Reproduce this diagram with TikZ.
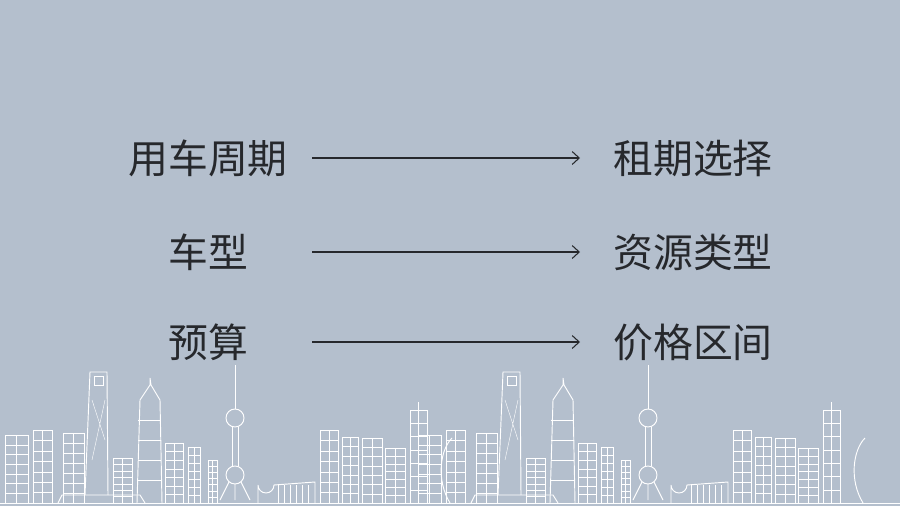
\documentclass[tikz,border=0pt]{standalone}
\usepackage{fontspec}
\newfontfamily\cjk{Noto Sans CJK SC}
\usetikzlibrary{arrows.meta}
\definecolor{bgblue}{RGB}{180,191,205}
\definecolor{ink}{RGB}{38,40,44}
\tikzset{
    label/.style={font=\cjk\fontsize{34}{36}\selectfont, text=ink},
    maparrow/.style={draw=ink, line width=0.9pt, -{Straight Barb[length=6pt,width=11pt]}},
    city/.style={draw=white, line width=0.8pt},
    thin/.style={draw=white, line width=0.35pt}
}
\newcommand{\bldg}[3]{%
    \draw[city] (#1,503) rectangle (#2,#3);
    \draw[thin] ({(#1+#2)/2},#3) -- ({(#1+#2)/2},503);
}
\begin{document}
\begin{tikzpicture}[x=0.03cm, y=-0.03cm]
    \fill[bgblue] (0,0) rectangle (900,506);
    \useasboundingbox (0,0) rectangle (900,506);

    % Rows
    \node[label] (l1) at (208,158) {用车周期};
    \node[label] (l2) at (208,252) {车型};
    \node[label] (l3) at (208,342) {预算};
    \node[label] (r1) at (693,158) {租期选择};
    \node[label] (r2) at (693,252) {资源类型};
    \node[label] (r3) at (693,342) {价格区间};
    \coordinate (a1) at (312,158); \coordinate (b1) at (580,158);
    \coordinate (a2) at (312,252); \coordinate (b2) at (580,252);
    \coordinate (a3) at (312,342); \coordinate (b3) at (580,342);
    \foreach \i in {1,2,3}
    {\draw[maparrow] (a\i) -- (b\i);}

    % Skyline
    \begin{scope}
    \clip (0,0) rectangle (900,506);
    \foreach \s in {0,413}
    {
    \begin{scope}[xshift=\s*0.03cm]
        \foreach \xa/\xb/\t in {5/28/435, 33/52/430, 63/84/433, 113/132/458,
            165/183/443, 188/200/447, 208/217/460, 320/338/430, 342/358/437,
            362/382/438, 385/405/448, 410/427/410}
        {\bldg{\xa}{\xb}{\t}
         \foreach \k in {1,...,6}
         {\draw[thin] (\xa,{\t+\k*(503-\t)/7}) -- (\xb,{\t+\k*(503-\t)/7});}}
        % tower
        \draw[city] (85,495) -- (90,372) -- (107,372) -- (108,495);
        \draw[city] (94,376) rectangle (103,385);
        \draw[thin] (92,400) -- (105,440) (105,400) -- (92,460);
        % twin spire
        \draw[city] (137,503) -- (140,400) -- (150,385) -- (150,378) -- (151,385) -- (160,400) -- (162,503);
        \foreach \k in {420,440,460,480}
        {\draw[thin] (138,\k) -- (161,\k);}
        % pearl tower
        \draw[city] (235,365) -- (235,409);
        \draw[city] (235,418) circle (9);
        \draw[city] (235,475) circle (9);
        \draw[city] (232,427) -- (232,466) (238,427) -- (238,466);
        \draw[city] (229,482) -- (220,500) (241,482) -- (250,500) (235,484) -- (235,500);
        % dome hall
        \draw[city] (258,503) -- (258,485) arc (180:0:8) -- (315,482) -- (315,503);
        \foreach \k in {278,284,...,310}
        {\draw[thin] (\k,485) -- (\k,503);}
        % curved facade
        \draw[city] (450,503) .. controls (436,480) and (440,450) .. (452,438);
        % spire
        \draw[city] (418,410) -- (418,402);
        % base plinth
        \draw[city] (58,503) -- (62,495) -- (140,495) -- (145,503);
    \end{scope}
    }
    \draw[city] (0,503) -- (900,503);
    \end{scope}
\end{tikzpicture}
\end{document}
